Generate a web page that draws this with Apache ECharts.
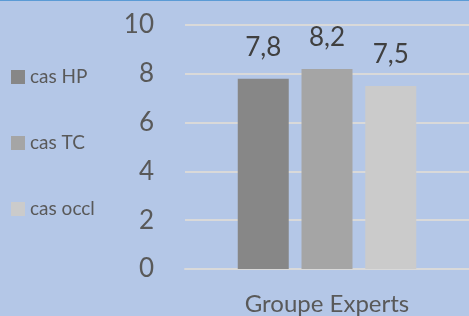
<html>
<head>
<meta charset="UTF-8">
<script src="https://cdn.jsdelivr.net/npm/echarts@6/dist/echarts.min.js"></script>
<style>
	html, body { margin: 0; padding: 0; background: #B4C7E7; }
	#main { width: 469px; height: 315px; border-top: 1px solid #5B9BD5; }
</style>
</head>
<body>
	<div id="main"></div>
<script type="text/javascript">
	var categories = ['Groupe Experts'];
	var seriesNames = ['cas HP', 'cas TC', 'cas occl'];
	var casHP = [7.8];
	var casTC = [8.2];
	var casOccl = [7.5];
	var yTicks = [0, 2, 4, 6, 8, 10];

	var colors = ['#878787', '#A5A5A5', '#CBCBCB'];
	var values = [casHP, casTC, casOccl];

	var series = [];
	for (var i = 0; i < seriesNames.length; i++) {
		series.push({
			name : seriesNames[i],
			type : 'bar',
			data : values[i],
			barWidth : 51,
			barGap : '25%',
			itemStyle : { color : colors[i] },
			label : {
				show : true,
				position : 'top',
				distance : 18,
				color : '#404040',
				fontSize : 26,
				fontFamily : 'Lato',
				formatter : function(p) {
					return String(p.value).replace('.', ',');
				}
			}
		});
	}

	var myChart = echarts.init(document.getElementById('main'));
	var option = {
		animation : false,
		grid : { left : 185, top : 24, width : 292, bottom : 47 },
		legend : {
			orient : 'vertical',
			left : 6,
			top : 61,
			icon : 'rect',
			itemWidth : 14,
			itemHeight : 14,
			itemGap : 46,
			textStyle : { color : '#595959', fontSize : 19, fontFamily : 'Lato', lineHeight : 20 },
			data : seriesNames
		},
		xAxis : {
			type : 'category',
			data : categories,
			axisLine : { lineStyle : { color : '#D9D9D9', width : 2 } },
			axisTick : { show : false },
			axisLabel : { color : '#595959', fontSize : 24, fontFamily : 'Lato', margin : 23 }
		},
		yAxis : {
			type : 'value',
			min : yTicks[0],
			max : yTicks[yTicks.length - 1],
			interval : 2,
			axisLine : { show : false },
			axisTick : { show : false },
			splitLine : { lineStyle : { color : '#D9D9D9', width : 2 } },
			axisLabel : { color : '#595959', fontSize : 26, fontFamily : 'Lato', margin : 31 }
		},
		series : series
	};
	myChart.setOption(option);
</script>
</body>
</html>
